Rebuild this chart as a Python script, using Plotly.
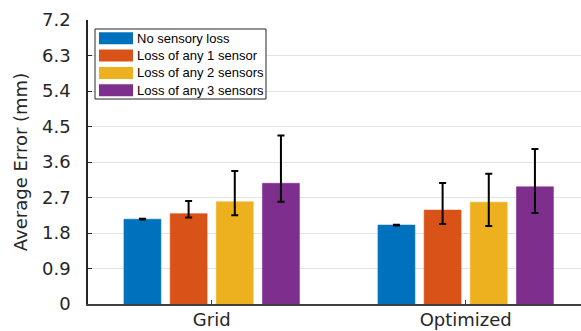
import plotly.graph_objects as go

# Sensor-loss study: mean reconstruction error per sensor layout
categories = ["Grid", "Optimized"]
series_names = [
    "No sensory loss",
    "Loss of any 1 sensor",
    "Loss of any 2 sensors",
    "Loss of any 3 sensors",
]
mean_error = [
    [2.15, 2.00],
    [2.29, 2.38],
    [2.59, 2.58],
    [3.06, 2.97],
]
err_plus = [
    [0.01, 0.01],
    [0.32, 0.69],
    [0.78, 0.72],
    [1.21, 0.96],
]
err_minus = [
    [0.01, 0.01],
    [0.10, 0.35],
    [0.34, 0.60],
    [0.47, 0.66],
]
y_ticks = [0, 0.9, 1.8, 2.7, 3.6, 4.5, 5.4, 6.3, 7.2]
colors = ["#0072BD", "#D95319", "#EDB120", "#7E2F8E"]

W, H = 581, 331
ML, MR, MT, MB = 88, 0, 20, 27
PW, PH = W - ML - MR, H - MT - MB

fig = go.Figure()
for name, vals, ep, em, col in zip(series_names, mean_error, err_plus, err_minus, colors):
    fig.add_trace(go.Bar(
        x=categories, y=vals, name=name,
        marker=dict(color=col, line=dict(color=col, width=0.6)),
        error_y=dict(type="data", symmetric=False, array=ep, arrayminus=em,
                     color="black", thickness=2, width=3.5),
        showlegend=False,
    ))

dark = "#262626"
fig.update_layout(
    width=W, height=H, autosize=False,
    margin=dict(l=ML, r=MR, t=MT, b=MB, pad=0),
    paper_bgcolor="white", plot_bgcolor="white",
    barmode="group", bargap=0.273, bargroupgap=0.2,
    font=dict(family="DejaVu Sans", size=18, color=dark),
    xaxis=dict(
        type="category", range=[-0.487, 1.454], automargin=False,
        showline=True, linecolor="#404040", linewidth=1.5,
        ticks="inside", ticklen=4, tickcolor="#404040", tickwidth=1,
        showgrid=False, ticklabelstandoff=-1,
        tickfont=dict(size=18, color=dark),
    ),
    yaxis=dict(
        range=[0, 7.2], tickvals=y_ticks, ticktext=[f"{v:g}" for v in y_ticks],
        automargin=False,
        showline=True, linecolor=dark, linewidth=1.5,
        ticks="inside", ticklen=4, tickcolor=dark, tickwidth=1,
        showgrid=True, gridcolor="#e3e3e3", gridwidth=1.2,
        zeroline=False, ticklabelstandoff=12,
        tickfont=dict(size=18, color=dark),
        title=dict(text="Average Error (mm)", standoff=10, font=dict(size=18, color=dark)),
    ),
)

# Legend panel drawn in plot-area (paper) coordinates
def px_x(p):
    return (p - ML) / PW

def px_y(p):
    return (H - MB - p) / PH

fig.add_shape(type="rect", xref="paper", yref="paper",
              x0=px_x(95), x1=px_x(266), y0=px_y(99), y1=px_y(29),
              line=dict(color=dark, width=1), fillcolor="white", layer="above")
row_centers = [38.3, 55.6, 72.9, 90.2]
for name, col, yc in zip(series_names, colors, row_centers):
    fig.add_shape(type="rect", xref="paper", yref="paper",
                  x0=px_x(99), x1=px_x(133), y0=px_y(yc + 6), y1=px_y(yc - 6),
                  line=dict(width=0), fillcolor=col, layer="above")
    fig.add_annotation(xref="paper", yref="paper", x=px_x(134.5), y=px_y(yc),
                       text=name, showarrow=False, xanchor="left", yanchor="middle",
                       font=dict(family="Liberation Sans", size=13, color="black"))

fig.write_html("out.html")
